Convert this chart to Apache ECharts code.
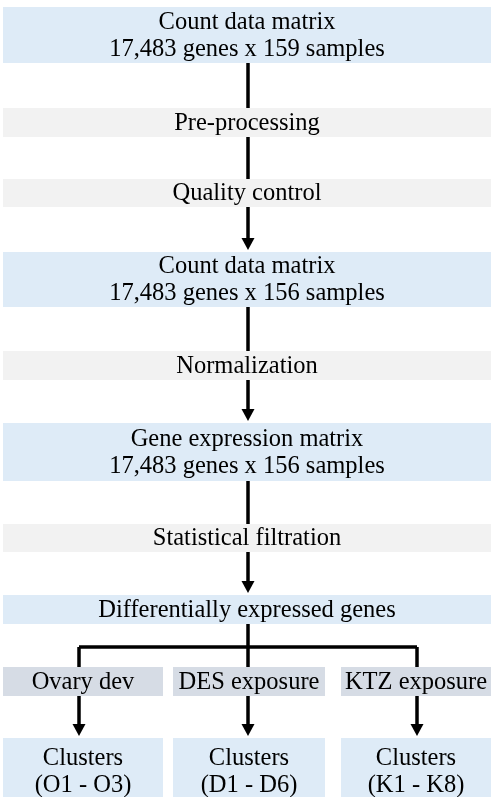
<!DOCTYPE html>
<html>
<head>
<meta charset="utf-8" />
<style>
  html, body {margin: 0; padding: 0; background: #fff;}
  #flow {width: 491px; height: 797px;}
</style>
<script src="https://cdn.jsdelivr.net/npm/echarts@6.0.0/dist/echarts.min.js"></script>
</head>
<body>
<div id="flow"></div>
<script type="text/javascript">
// steps of the main pipeline, top to bottom
var mainSteps = ['Count data matrix\n17,483 genes x 159 samples', 'Pre-processing', 'Quality control',
                 'Count data matrix\n17,483 genes x 156 samples', 'Normalization',
                 'Gene expression matrix\n17,483 genes x 156 samples', 'Statistical filtration',
                 'Differentially expressed genes'];
var stepKinds = ['data', 'step', 'step', 'data', 'step', 'data', 'step', 'data'];
var branchNames = ['Ovary dev', 'DES exposure', 'KTZ exposure'];
var clusterNames = ['Clusters\n(O1 - O3)', 'Clusters\n(D1 - D6)', 'Clusters\n(K1 - K8)'];

/* ---- layout, in pixel units of the hidden axes ---- */
var rowTop = [7, 108, 179, 252, 351, 423, 524, 595];
var rowBottom = [63, 137, 207, 307, 380, 481, 552, 624];
var branchRow = [667, 696];
var clusterRow = [738, 805];   // runs off the bottom edge
var colLeft = [3, 173, 341];
var colRight = [163, 325, 491];
var colLine = [79, 248, 417];
var mainLeft = 3, mainRight = 491, mainLine = 248, forkY = 647;
var fills = {data: '#deebf7', step: '#f2f2f2', branch: '#d6dce5'};

var boxes = [];
mainSteps.forEach(function (t, i) {
  boxes.push({value: [mainLeft, rowTop[i], mainRight, rowBottom[i]], name: t, kind: stepKinds[i]});
});
branchNames.forEach(function (t, i) {
  boxes.push({value: [colLeft[i], branchRow[0], colRight[i], branchRow[1]], name: t, kind: 'branch'});
});
clusterNames.forEach(function (t, i) {
  boxes.push({value: [colLeft[i], clusterRow[0], colRight[i], clusterRow[1]], name: t, kind: 'data'});
});

// connectors: points + arrowhead at the end when going into a data box
var links = [];
for (var i = 1; i < mainSteps.length; i++) {
  links.push({pts: [[mainLine, rowBottom[i - 1]], [mainLine, rowTop[i]]], arrow: stepKinds[i] == 'data'});
}
links.push({pts: [[mainLine, rowBottom[7]], [mainLine, forkY]], arrow: false});
links.push({pts: [[colLine[0], forkY], [colLine[2], forkY]], arrow: false});
colLine.forEach(function (x) {
  links.push({pts: [[x, forkY], [x, branchRow[0]]], arrow: false});
  links.push({pts: [[x, branchRow[1]], [x, clusterRow[0]]], arrow: true});
});

var chart = echarts.init(document.getElementById('flow'));

function renderBox(params, api) {
  var p0 = api.coord([api.value(0), api.value(1)]);
  var p1 = api.coord([api.value(2), api.value(3)]);
  var b = boxes[params.dataIndex];
  return {
    type: 'rect',
    shape: {x: p0[0], y: p0[1], width: p1[0] - p0[0], height: p1[1] - p0[1]},
    style: {fill: fills[b.kind]},
    textContent: {
      style: {text: b.name, fill: '#000', fontFamily: 'Liberation Serif', fontSize: 24.5,
              lineHeight: 27, align: 'center', verticalAlign: 'middle'}
    },
    textConfig: {position: 'inside', offset: [0, 1]}
  };
}

function renderLink(params, api) {
  var l = links[api.value(0)];
  var pts = l.pts.map(function (p) { return api.coord(p); });
  var children = [];
  if (l.arrow) {
    var end = pts[pts.length - 1];
    var tip = [end[0], end[1] - 2];
    var base = tip[1] - 12;
    pts[pts.length - 1] = [end[0], base + 1];
    children.push({
      type: 'polygon',
      shape: {points: [[tip[0] - 6.5, base], [tip[0] + 6.5, base], tip]},
      style: {fill: '#000'}
    });
  }
  children.unshift({
    type: 'polyline',
    shape: {points: pts},
    style: {stroke: '#000', lineWidth: 3.5, fill: null}
  });
  return {type: 'group', children: children};
}

var option = {
  animation: false,
  grid: {left: 0, right: 0, top: 0, bottom: 0},
  xAxis: {type: 'value', min: 0, max: 491, show: false},
  yAxis: {type: 'value', min: 0, max: 797, inverse: true, show: false},
  series: [
    {type: 'custom', renderItem: renderBox, data: boxes, clip: false, z: 2},
    {type: 'custom', renderItem: renderLink, clip: false, z: 3,
     data: links.map(function (l, i) { return [i]; })}
  ]
};
chart.setOption(option);
</script>
</body>
</html>
